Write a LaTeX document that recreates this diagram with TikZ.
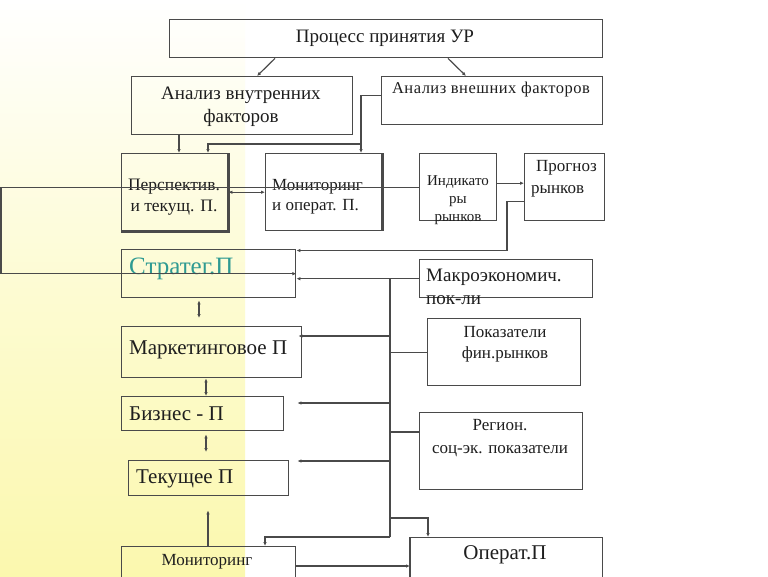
\documentclass[tikz,border=0pt]{standalone}
\usepackage{fontspec}
\setmainfont{Liberation Serif}
\usetikzlibrary{arrows.meta}
\definecolor{linec}{HTML}{4A4A4A}
\definecolor{textc}{HTML}{1E1E1E}
\definecolor{tealc}{HTML}{2E9A92}
\definecolor{bgy}{HTML}{FBF8AE}
\newcommand{\bx}[5]{\node[box, minimum width={(#4-#2)*1pt}, minimum height={(#5-#3)*1pt}] (#1) at (#2,#3) {};}
\newcommand{\fs}[1]{\fontsize{#1}{#1}\selectfont}
\begin{document}
\begin{tikzpicture}[x=1pt,y=-1pt,
  box/.style={draw=linec, line width=1.4pt, inner sep=0pt, anchor=north west},
  thickedge/.style={draw=linec, line width=2.6pt},
  txt/.style={text=textc, inner sep=0pt, align=center},
  ln/.style={draw=linec, line width=1.2pt},
  arr/.style={ln, -{Latex[length=4pt,width=3.5pt]}},
  darr/.style={ln, {Latex[length=4pt,width=3.5pt]}-{Latex[length=4pt,width=3.5pt]}}]
\useasboundingbox (0,0) rectangle (768,576);
\clip (0,0) rectangle (768,576);
\fill[white] (0,0) rectangle (768,576);
\shade[top color=white, bottom color=bgy, middle color=bgy!55!white] (0,0) rectangle (245,576);

% boxes
\bx{proc}{169}{19}{602}{57}
\bx{vnutr}{131}{76}{352}{134}
\bx{vnesh}{381}{76}{602}{124}
\bx{persp}{121}{153}{227}{230}
\bx{monit}{265}{153}{381}{230}
\bx{indic}{419}{153}{496}{220}
\bx{progn}{524}{153}{604}{220}
\bx{strat}{121}{249}{295}{297}
\bx{macro}{419}{259}{592}{297}
\bx{pokaz}{427}{318}{580}{385}
\bx{region}{419}{412}{582}{489}
\bx{market}{121}{326}{301}{377}
\bx{biznes}{121}{396}{283}{430}
\bx{tekush}{128}{460}{288}{495}
\bx{monitb}{121}{546}{295}{600}
\bx{operat}{410}{537}{602}{600}
\draw[thickedge] (persp.north east) -- (persp.south east) -- (persp.south west);
\draw[thickedge] (monit.north east) -- (monit.south east);
\draw[thickedge] (operat.north west) -- (operat.south west);

% texts
\node[txt, font=\fs{19}] (tproc) at (385,38) {Процесс принятия УР};
\node[txt, font=\fs{19}] (tvnutr) at (241,107) {Анализ внутренних\\[4pt]факторов};
\node[txt, font=\fs{16.5}\addfontfeature{LetterSpace=3}] (tvnesh) at (491,90) {Анализ внешних факторов};
\node[txt, font=\fs{17.5}] (tpersp) at (174,197) {Перспектив.\\[3pt]и текущ. П.};
\node[txt, font=\fs{17}, align=left, anchor=west] (tmonit) at (272,197) {Мониторинг\\[3pt]и операт. П.};
\node[txt, font=\fs{15}] (tindic) at (458,200) {Индикато\\[3pt]ры\\[3pt]рынков};
\node[txt, font=\fs{17}, align=left, anchor=west] (tprogn) at (531,179) {\hspace{5pt}Прогноз\\[5pt]рынков};
\node[txt, font=\fs{25}, text=tealc, anchor=west] (tstrat) at (129,269) {Стратег.П};
\node[txt, font=\fs{19}, align=left, anchor=west] (tmacro) at (426,287) {Макроэкономич.\\[4pt]пок-ли};
\node[txt, font=\fs{17}] (tpokaz) at (505,344) {Показатели\\[4pt]фин.рынков};
\node[txt, font=\fs{17}] (tregion) at (500,438) {Регион.\\[6pt]соц-эк. показатели};
\node[txt, font=\fs{21}, anchor=west] (tmarket) at (129,350) {Маркетинговое П};
\node[txt, font=\fs{21}, anchor=west] (tbiznes) at (129,414) {Бизнес - П};
\node[txt, font=\fs{21}, anchor=west] (ttekush) at (136,479) {Текущее П};
\node[txt, font=\fs{17}] (tmonitb) at (207,562) {Мониторинг};
\node[txt, font=\fs{21}] (toperat) at (505,555) {Операт.П};

% connectors top
\draw[arr] ([xshift=106pt]proc.south west) -- ([xshift=126pt]vnutr.north west);
\draw[arr] ([xshift=279pt]proc.south west) -- ([xshift=85pt]vnesh.north west);
\draw[arr] ([xshift=48pt]vnutr.south west) -- ([xshift=58pt]persp.north west);
\draw[arr] ([yshift=5pt]vnesh.west) -| ([xshift=96pt]monit.north west);
\draw[arr] ([xshift=96pt,yshift=9pt]monit.north west) -| ([xshift=87pt]persp.north west);
\draw[darr] (persp.east) -- (monit.west);
\draw[arr] (indic.west) -- ++(-418,0) |- (strat.east);
\draw[arr] ([yshift=4pt]indic.east) -- ([yshift=4pt]progn.west);
\draw[arr] ([yshift=-14.5pt]progn.west) -- ++(-17,0) |- ([yshift=-1.5pt]strat.north east);

% left column
\draw[darr] ([xshift=78pt,yshift=-2pt]strat.south west) -- ([xshift=78pt,yshift=8pt]market.north west);
\draw[darr] ([xshift=85pt]market.south west) -- ([xshift=85pt]biznes.north west);
\draw[darr] ([xshift=85pt,yshift=-3pt]biznes.south west) -- ([xshift=78pt,yshift=8pt]tekush.north west);
\draw[arr] ([xshift=87pt]monitb.north west) -- ([xshift=80pt,yshift=-14pt]tekush.south west);

% bus
\coordinate (btop) at (390,278);
\coordinate (bbot) at (390,537);
\draw[ln] (btop) -- (bbot);
\draw[arr] (macro.west) -- (strat.east |- macro.west);
\draw[arr] (btop |- 0,336) -- ([xshift=-4pt]market.east |- 0,336);
\draw[ln] (pokaz.west) -- (btop |- pokaz.west);
\draw[arr] (btop |- 0,403) -- ([xshift=13pt]biznes.east |- 0,403);
\draw[ln] (region.west |- 0,432) -- (btop |- 0,432);
\draw[arr] (btop |- 0,461) -- ([xshift=8pt]tekush.east |- 0,461);
\draw[arr] (bbot) -| ([xshift=144pt]monitb.north west);
\draw[arr] (btop |- 0,518) -| ([xshift=18pt]operat.north west);
\draw[arr] ([yshift=-20pt]monitb.north east) -- ([yshift=-29pt]operat.north west);
\end{tikzpicture}
\end{document}
